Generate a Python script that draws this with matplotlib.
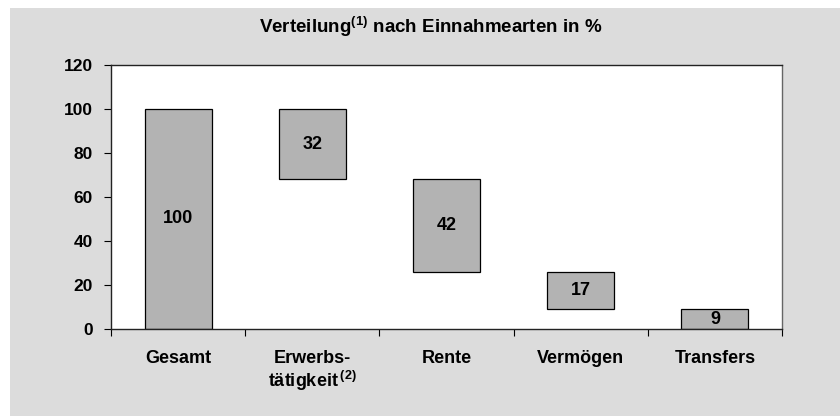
import matplotlib
matplotlib.use("Agg")
import matplotlib.pyplot as plt
from matplotlib.patches import Rectangle
import numpy as np

categories = ["Gesamt", "Erwerbs-\ntätigkeit$\\,^{(2)}$", "Rente", "Vermögen", "Transfers"]
values = [100, 32, 42, 17, 9]
yticks = [0, 20, 40, 60, 80, 100, 120]
title = "Verteilung$^{(1)}$ nach Einnahmearten in %"

plt.rcParams["font.family"] = ["Liberation Sans", "DejaVu Sans"]
plt.rcParams["font.weight"] = "bold"
plt.rcParams["mathtext.fontset"] = "custom"
plt.rcParams["mathtext.rm"] = "Liberation Sans:bold"
plt.rcParams["mathtext.it"] = "Liberation Sans:bold"
plt.rcParams["mathtext.bf"] = "Liberation Sans:bold"

fig = plt.figure(figsize=(8.4, 4.16), dpi=100)
fig.patch.set_facecolor("white")
fig.patches.append(Rectangle((10 / 840, 0), 1, 1 - 8 / 416, transform=fig.transFigure,
                             facecolor="#dcdcdc", edgecolor="none", zorder=-10))

ax = fig.add_axes([111 / 840, 1 - 329 / 416, (782 - 111) / 840, (329 - 65) / 416])
ax.set_zorder(5)
ax.set_facecolor("white")

# waterfall bases
bases = [0]
top = values[0]
for v in values[1:]:
    top = top - v
    bases.append(top)
x = np.arange(len(values))
ax.bar(x, values, bottom=bases, width=0.5, color="#b3b3b3", edgecolor="black", linewidth=0.9, zorder=2)
for xi, b, v in zip(x, bases, values):
    ax.text(xi, b + v / 2, str(v), ha="center", va="center", fontsize=13, fontweight="bold", zorder=3)

ax.set_xlim(-0.5, len(values) - 0.5)
ax.set_ylim(0, 120)
ax.set_yticks(yticks)
ax.set_yticklabels([str(t) for t in yticks], fontsize=12.5, fontweight="bold")
ax.set_xticks(np.arange(len(values) + 1) - 0.5)
ax.set_xticklabels([])
ax.set_xticks(x, minor=True)
ax.set_xticklabels(categories, minor=True, fontsize=13, fontweight="bold", va="top", linespacing=1.1)
ax.tick_params(axis="x", which="minor", length=0, pad=15)
ax.tick_params(axis="x", which="major", length=5, width=0.8, direction="out")
ax.tick_params(axis="y", length=5, width=0.8, direction="out", pad=8)
for s in ax.spines.values():
    s.set_color("#222222")
    s.set_linewidth(1.0)
ax.spines["right"].set_color("#666666")

fig.text(431 / 840, 1 - 27 / 416, title, ha="center", va="center", fontsize=13.5, fontweight="bold")

fig.savefig("out.png", dpi=100, facecolor=fig.get_facecolor())
